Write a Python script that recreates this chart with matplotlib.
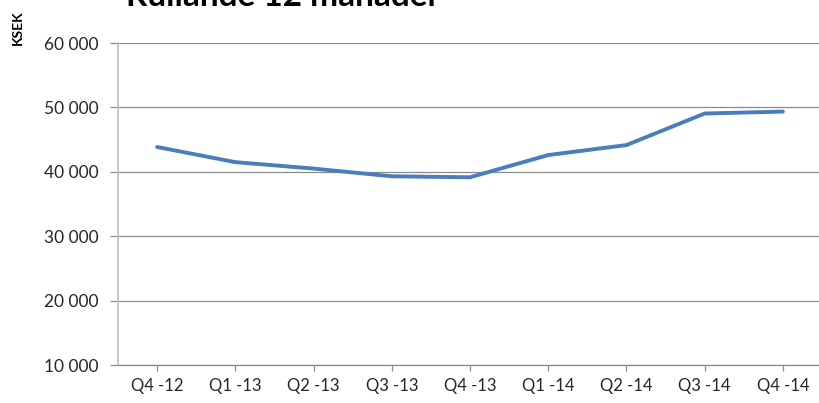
import matplotlib
matplotlib.use('Agg')
import matplotlib.pyplot as plt
from matplotlib.ticker import FuncFormatter

# data (KSEK, rolling 12 months)
quarters = ['Q4 -12', 'Q1 -13', 'Q2 -13', 'Q3 -13', 'Q4 -13',
            'Q1 -14', 'Q2 -14', 'Q3 -14', 'Q4 -14']
values = [43850, 41500, 40500, 39300, 39150, 42600, 44150, 49050, 49350]
y_ticks = [10000, 20000, 30000, 40000, 50000, 60000]

W, H = 819, 403
fig = plt.figure(figsize=(W / 100, H / 100), dpi=100)
plt.rcParams['font.family'] = ['Lato', 'DejaVu Sans']

# axes box in pixels: left 118, right 822 (runs past the image edge), y 43..365
left, right, top, bottom = 118, 822, 43, 365
ax = fig.add_axes([left / W, 1 - bottom / H, (right - left) / W, (bottom - top) / H])

x = list(range(len(quarters)))
ax.plot(x, values, color='#4a7ebb', lw=2.8, solid_capstyle='round', zorder=3)

ax.set_xlim(-0.5, len(quarters) - 0.5)
ax.set_ylim(10000, 60000)
ax.set_yticks(y_ticks)
ax.yaxis.set_major_formatter(FuncFormatter(lambda v, p: f'{int(v):,}'.replace(',', ' ')))
ax.set_xticks(x)
ax.set_xticklabels(quarters)

ax.grid(axis='y', color='#8c8c8c', lw=0.9)
ax.set_axisbelow(True)
for s in ['top', 'right']:
    ax.spines[s].set_visible(False)
ax.spines['left'].set_color('#bfbfbf')
ax.spines['left'].set_linewidth(1.2)
ax.spines['bottom'].set_color('#8c8c8c')
ax.spines['bottom'].set_linewidth(0.9)

ax.tick_params(axis='y', length=6, width=0.9, color='#8c8c8c', pad=8,
               labelsize=12.5, labelcolor='#262626')
ax.tick_params(axis='x', length=4, width=0.9, color='#8c8c8c', pad=5,
               labelsize=12, labelcolor='#262626')

# title, partly cut off at top of the image (as in the reference)
fig.text(283 / W, 1 - 6 / H, 'Rullande 12 månader', ha='center', va='baseline',
         fontsize=24, fontweight='bold', color='#000000')
fig.text(18 / W, 1 - 28 / H, 'KSEK', rotation=90, ha='center', va='center',
         fontsize=10, fontweight='bold', color='#000000')

fig.savefig('out.png', dpi=100)
